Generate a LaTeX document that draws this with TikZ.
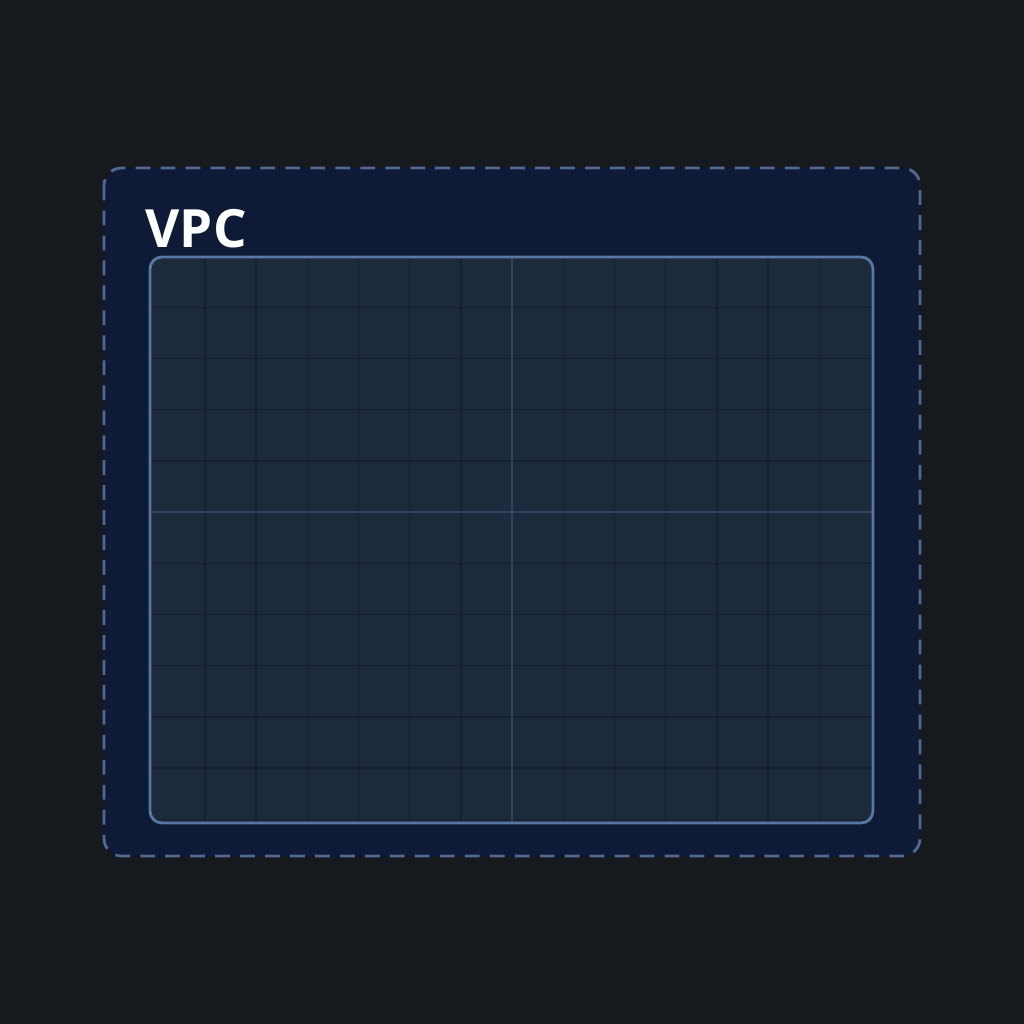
\documentclass[tikz,border=0pt]{standalone}
\usepackage{fontspec}
\setsansfont{Open Sans}
\usetikzlibrary{positioning}
\definecolor{bgdark}{HTML}{16191E}
\definecolor{vpcfill}{HTML}{0E1A36}
\definecolor{vpcline}{HTML}{4F6993}
\definecolor{subfill}{HTML}{1C2A3C}
\definecolor{subline}{HTML}{5A76A4}
\definecolor{gridline}{HTML}{142031}
\definecolor{axisline}{HTML}{2E4460}

\begin{document}
\begin{tikzpicture}[x=0.01cm, y=-0.01cm,
    vpcbox/.style={draw=vpcline, fill=vpcfill, line width=0.8pt, dash pattern=on 4.2pt off 2.9pt, rounded corners=5pt},
    subbox/.style={draw=subline, line width=0.8pt, rounded corners=3.4pt},
    title/.style={font=\sffamily\bfseries\fontsize{15}{18}\selectfont, text=white, anchor=base west, inner sep=0pt}]

    % background
    \fill[bgdark] (0,0) rectangle (1024,1024);
    \useasboundingbox (0,0) rectangle (1024,1024);

    % vpc area
    \draw[vpcbox] (104,168) rectangle (920,856);
    \node[title] (vpc) at (145,247) {VPC};

    % inner area with grid
    \fill[subfill, rounded corners=3.4pt] (150,257) rectangle (873,823);
    \begin{scope}
        \clip[rounded corners=3.4pt] (150,257) rectangle (873,823);
        \foreach \x in {204.8,256,...,870}
            \draw[gridline, line width=0.4pt] (\x,257) -- (\x,823);
        \foreach \y in {307.2,358.4,...,820}
            \draw[gridline, line width=0.4pt] (150,\y) -- (873,\y);
        \draw[axisline, line width=0.3pt] (512,257) -- (512,823);
        \draw[axisline, line width=0.3pt] (150,512) -- (873,512);
    \end{scope}
    \draw[subbox] (150,257) rectangle (873,823);
\end{tikzpicture}
\end{document}
